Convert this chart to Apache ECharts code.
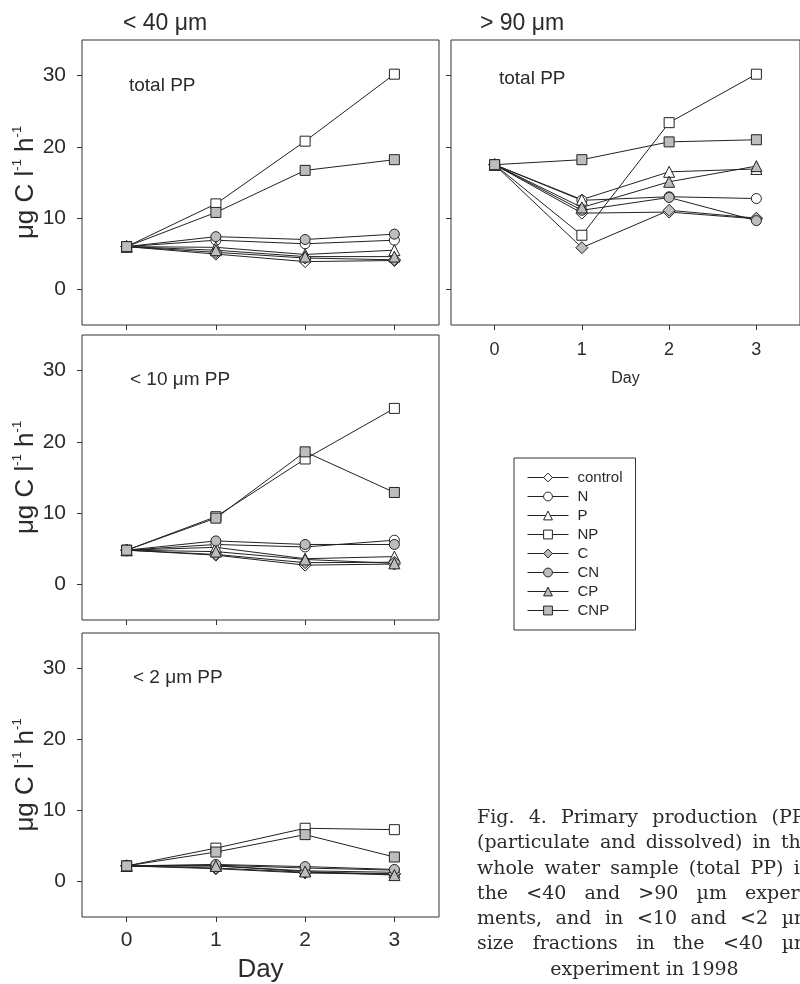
<!DOCTYPE html>
<html>
<head>
<meta charset="utf-8">
<script src="https://cdn.jsdelivr.net/npm/echarts@6/dist/echarts.min.js"></script>
<style>
html, body { margin: 0; padding: 0; background: #fff; }
#chart { width: 800px; height: 984px; }
</style>
</head>
<body>
<div id="chart"></div>
<script>
var days = [0, 1, 2, 3];
var yTicks = [0, 10, 20, 30];
var treatments = ['control', 'N', 'P', 'NP', 'C', 'CN', 'CP', 'CNP'];

// one row per treatment (same order as treatments), values for day 0..3
var total40 = [
	[6.0, 4.95, 3.9, 4.05],
	[6.0, 6.9, 6.4, 6.9],
	[6.0, 5.9, 4.9, 5.5],
	[6.0, 12.0, 20.8, 30.2],
	[6.0, 5.2, 4.4, 4.15],
	[6.0, 7.4, 7.0, 7.75],
	[6.0, 5.5, 4.6, 4.6],
	[6.0, 10.8, 16.7, 18.2]
];
var total90 = [
	[17.5, 10.7, 10.85, 9.9],
	[17.5, 12.5, 13.0, 12.75],
	[17.5, 12.6, 16.5, 16.9],
	[17.5, 7.6, 23.4, 30.2],
	[17.5, 5.85, 11.1, 10.0],
	[17.5, 11.1, 12.9, 9.65],
	[17.5, 11.5, 15.1, 17.3],
	[17.5, 18.2, 20.7, 21.0]
];
var lt10 = [
	[4.8, 4.1, 2.7, 2.85],
	[4.8, 5.6, 5.25, 6.2],
	[4.8, 5.2, 3.6, 3.9],
	[4.8, 9.5, 17.6, 24.7],
	[4.8, 4.2, 3.05, 3.1],
	[4.8, 6.1, 5.6, 5.6],
	[4.8, 4.6, 3.5, 2.95],
	[4.8, 9.3, 18.6, 12.9]
];
var lt2 = [
	[2.2, 1.8, 1.2, 1.0],
	[2.2, 2.3, 1.9, 1.6],
	[2.2, 2.2, 1.5, 1.3],
	[2.2, 4.7, 7.5, 7.3],
	[2.2, 1.9, 1.3, 1.1],
	[2.2, 2.4, 2.1, 1.7],
	[2.2, 2.2, 1.4, 0.9],
	[2.2, 4.15, 6.6, 3.45]
];

var panels = [total40, total90, lt10, lt2];

var symbols = ['diamond', 'circle', 'triangle', 'rect', 'diamond', 'circle', 'triangle', 'rect'];
var symSizes = [12, 10, 11, 10, 12, 10, 11, 10];
var fills = ['#fff', '#fff', '#fff', '#fff', '#bdbdbd', '#bdbdbd', '#bdbdbd', '#bdbdbd'];

var SANS = '"Liberation Sans", Arial, sans-serif';
var SERIF = '"DejaVu Serif", serif';
var INK = '#2b2b2b';

var grids = [
	{left: 82, top: 40, width: 357, height: 285},
	{left: 451, top: 40, width: 357, height: 285},
	{left: 82, top: 335, width: 357, height: 285},
	{left: 82, top: 633, width: 357, height: 285}
];
grids.forEach(function (g) {
	g.show = true;
	g.borderColor = '#333';
	g.borderWidth = 1;
	g.backgroundColor = 'transparent';
});

var xAxes = [], yAxes = [];
for (var i = 0; i < 4; i++) {
	var showX = (i === 1 || i === 3);
	xAxes.push({
		type: 'value', gridIndex: i, min: -0.5, max: 3.5, position: 'bottom',
		axisLine: {show: false, onZero: false},
		splitLine: {show: false},
		axisTick: {show: true, customValues: days, length: 5, lineStyle: {color: '#333'}},
		axisLabel: {show: showX, customValues: days, color: INK, fontFamily: SANS,
			fontSize: i === 1 ? 18 : 21, margin: i === 1 ? 16 : 13},
		name: showX ? 'Day' : '',
		nameLocation: 'middle',
		nameGap: i === 1 ? 46 : 40,
		nameTextStyle: {color: INK, fontFamily: SANS, fontSize: i === 1 ? 16 : 26}
	});
	var showY = (i !== 1);
	yAxes.push({
		type: 'value', gridIndex: i, min: -5, max: 35, position: 'left',
		axisLine: {show: false, onZero: false},
		splitLine: {show: false},
		axisTick: {show: true, customValues: yTicks, length: 5, lineStyle: {color: '#333'}},
		axisLabel: {show: showY, customValues: yTicks, color: INK, fontFamily: SANS, fontSize: 21, margin: 16},
		name: showY ? '{a|μg C l}{s|-1}{a| h}{s|-1}' : '',
		nameLocation: 'middle',
		nameRotate: 90,
		nameGap: 40,
		nameTextStyle: {
			color: INK, fontFamily: SANS,
			rich: {
				a: {fontSize: 26, lineHeight: 30, color: INK, fontFamily: SANS},
				s: {fontSize: 13, verticalAlign: 'top', lineHeight: 30, color: INK, fontFamily: SANS}
			}
		}
	});
}

var series = [];
panels.forEach(function (rows, p) {
	rows.forEach(function (vals, t) {
		series.push({
			type: 'line',
			name: treatments[t],
			xAxisIndex: p, yAxisIndex: p,
			data: days.map(function (d, k) { return [d, vals[k]]; }),
			symbol: symbols[t],
			symbolSize: symSizes[t],
			itemStyle: {color: fills[t], borderColor: '#222', borderWidth: 1},
			lineStyle: {color: '#222', width: 1},
			emphasis: {disabled: true},
			silent: true
		});
	});
});

// texts
var graphics = [
	{type: 'text', left: 123, top: 12, style: {text: '< 40 μm', font: '23px ' + SANS, fill: INK}},
	{type: 'text', left: 480, top: 12, style: {text: '> 90 μm', font: '23px ' + SANS, fill: INK}},
	{type: 'text', left: 129, top: 76, style: {text: 'total PP', font: '19px ' + SANS, fill: INK}},
	{type: 'text', left: 499, top: 69, style: {text: 'total PP', font: '19px ' + SANS, fill: INK}},
	{type: 'text', left: 130, top: 370, style: {text: '< 10 μm PP', font: '19px ' + SANS, fill: INK}},
	{type: 'text', left: 133, top: 668, style: {text: '< 2 μm PP', font: '19px ' + SANS, fill: INK}}
];

// caption, justified column (right part runs off the page)
var captionLines = [
	'Fig. 4. Primary production (PP)',
	'(particulate and dissolved) in the',
	'whole water sample (total PP) in',
	'the <40 and >90 µm experi-',
	'ments, and in <10 and <2 µm',
	'size fractions in the <40 µm',
	'experiment in 1998'
];
var capFont = '19px ' + SERIF;
var ctx = document.createElement('canvas').getContext('2d');
ctx.font = capFont;
var capL = 477, capR = 812, capTop = 818, capStep = 25.3;
captionLines.forEach(function (line, li) {
	var y = capTop + li * capStep;
	if (li === captionLines.length - 1) {
		graphics.push({type: 'text', x: (capL + capR) / 2, y: y,
			style: {text: line, font: capFont, fill: INK, align: 'center', verticalAlign: 'middle'}});
		return;
	}
	var words = line.split(' ');
	var widths = words.map(function (w) { return ctx.measureText(w).width; });
	var sum = widths.reduce(function (a, b) { return a + b; }, 0);
	var gap = Math.max(5, (capR - capL - sum) / (words.length - 1));
	var x = capL;
	words.forEach(function (w, k) {
		graphics.push({type: 'text', x: x, y: y,
			style: {text: w, font: capFont, fill: INK, align: 'left', verticalAlign: 'middle'}});
		x += widths[k] + gap;
	});
});

var myChart = echarts.init(document.getElementById('chart'));

option = {
	animation: false,
	backgroundColor: '#fff',
	grid: grids,
	xAxis: xAxes,
	yAxis: yAxes,
	legend: {
		data: treatments,
		orient: 'vertical',
		left: 514,
		top: 458,
		itemWidth: 41,
		itemHeight: 11,
		itemGap: 4,
		padding: [12, 13, 12, 13],
		borderColor: '#333',
		borderWidth: 1,
		selectedMode: false,
		lineStyle: {width: 1},
		itemStyle: {borderWidth: 1},
		textStyle: {fontSize: 15, lineHeight: 15, color: INK, fontFamily: SANS, padding: [0, 0, 0, 4]}
	},
	graphic: graphics,
	series: series
};
myChart.setOption(option);
</script>
</body>
</html>
